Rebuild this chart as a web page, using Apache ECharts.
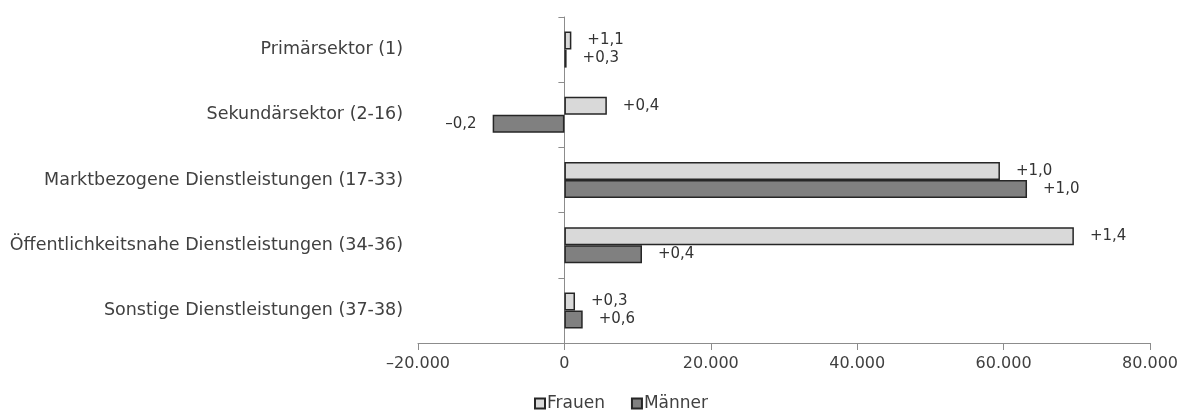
<!DOCTYPE html>
<html><head><meta charset="utf-8">
<script src="https://cdn.jsdelivr.net/npm/echarts@6/dist/echarts.min.js"></script>
<style>html,body{margin:0;padding:0;background:#fff}#c{width:1181px;height:410px}</style>
</head><body><div id="c"></div>
<script>
const categories = ["Primärsektor (1)", "Sekundärsektor (2-16)", "Marktbezogene Dienstleistungen (17-33)", "Öffentlichkeitsnahe Dienstleistungen (34-36)", "Sonstige Dienstleistungen (37-38)"];
const frauen = [950, 5800, 59500, 69600, 1450];
const maenner = [300, -9800, 63200, 10600, 2500];
const frauenLabels = ["+1,1", "+0,4", "+1,0", "+1,4", "+0,3"];
const maennerLabels = ["+0,3", "–0,2", "+1,0", "+0,4", "+0,6"];
const xTicks = { min: -20000, max: 80000, interval: 20000 };

const FONT = "DejaVu Sans";
const GRID_LEFT = 418;
function fmt(v) {
  const s = Math.abs(v).toString().replace(/\B(?=(\d{3})+(?!\d))/g, ".");
  return (v < 0 ? "–" : "") + s;
}
function mk(values, labels) {
  return values.map((v, i) => ({
    value: v,
    label: { position: v < 0 ? "left" : "right", formatter: labels[i] }
  }));
}
const chart = echarts.init(document.getElementById("c"), null, { renderer: "canvas" });
const option = {
  animation: false,
  textStyle: { fontFamily: FONT },
  grid: { left: GRID_LEFT, right: 27, top: 17, bottom: 67, containLabel: false },
  legend: {
    left: 529, top: 390, itemWidth: 10, itemHeight: 10, itemGap: 26,
    icon: "rect",
    textStyle: { fontFamily: FONT, fontSize: 17, color: "#404040", padding: [0, 0, 0, -3] },
    data: ["Frauen", "Männer"]
  },
  xAxis: {
    type: "value", min: xTicks.min, max: xTicks.max, interval: xTicks.interval,
    splitLine: { show: false },
    axisLine: { show: true, onZero: false, lineStyle: { color: "#8c8c8c", width: 1 } },
    axisTick: { show: true, length: 7, lineStyle: { color: "#8c8c8c" } },
    axisLabel: { formatter: fmt, color: "#404040", fontSize: 16, margin: 13, fontFamily: FONT }
  },
  yAxis: [{
    type: "category", data: categories, inverse: true,
    axisLine: { show: false, onZero: false }, axisTick: { show: false },
    axisLabel: { color: "#404040", fontSize: 17.5, margin: 15, fontFamily: FONT }
  }, {
    type: "category", data: categories, inverse: true, position: "left", offset: 0,
    axisLine: { show: true, onZero: false, lineStyle: { color: "#8c8c8c", width: 1 } },
    axisTick: { show: true, length: 6, lineStyle: { color: "#8c8c8c" } },
    axisLabel: { show: false }
  }],
  series: [{
    name: "Frauen", type: "bar", data: mk(frauen, frauenLabels),
    barWidth: 18, barGap: "0%",
    itemStyle: { color: "#d9d9d9", borderColor: "#262626", borderWidth: 1.5 },
    label: { show: true, distance: 16, color: "#333333", fontSize: 15, fontFamily: FONT }
  }, {
    name: "Männer", type: "bar", data: mk(maenner, maennerLabels),
    barWidth: 18, barGap: "0%",
    itemStyle: { color: "#808080", borderColor: "#262626", borderWidth: 1.5 },
    label: { show: true, distance: 16, color: "#333333", fontSize: 15, fontFamily: FONT }
  }]
};
chart.setOption(option);
// place the second (tick) y axis at the value-axis zero via the library's scale
const zeroX = chart.convertToPixel({ xAxisIndex: 0 }, 0);
chart.setOption({ yAxis: [{}, { offset: GRID_LEFT - zeroX }] });
</script></body></html>
